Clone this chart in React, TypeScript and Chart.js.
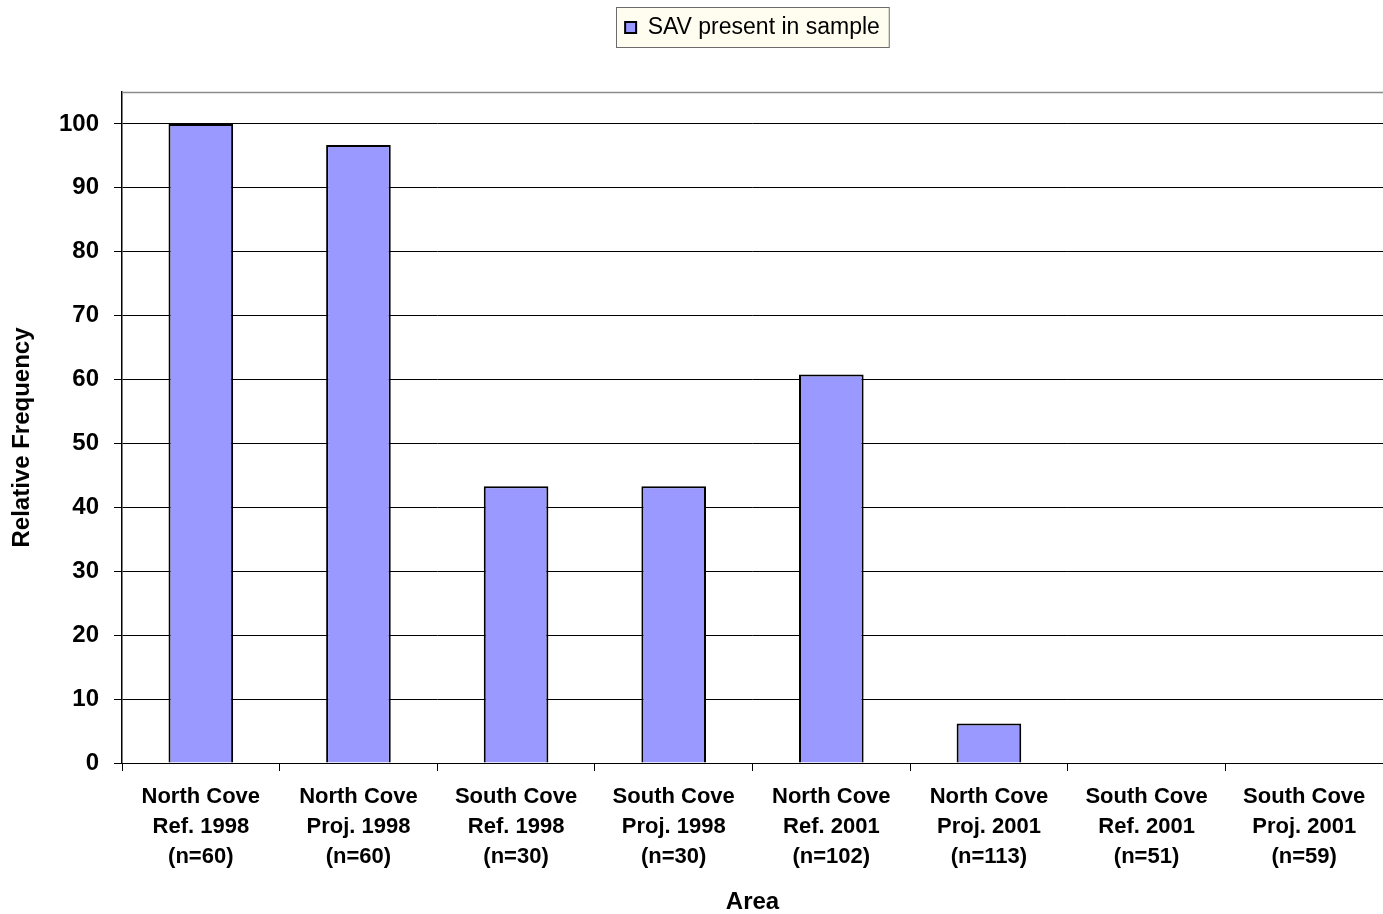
import React, { useEffect, useRef } from "react";
import { Chart, registerables } from "chart.js";

Chart.register(...registerables);

const categories: string[][] = [
  ["North Cove", "Ref. 1998", "(n=60)"],
  ["North Cove", "Proj. 1998", "(n=60)"],
  ["South Cove", "Ref. 1998", "(n=30)"],
  ["South Cove", "Proj. 1998", "(n=30)"],
  ["North Cove", "Ref. 2001", "(n=102)"],
  ["North Cove", "Proj. 2001", "(n=113)"],
  ["South Cove", "Ref. 2001", "(n=51)"],
  ["South Cove", "Proj. 2001", "(n=59)"],
];
const savPresent: number[] = [100, 96.7, 43.3, 43.3, 60.8, 6.2, 0, 0];
const seriesLabel = "SAV present in sample";
const yTicks: number[] = [0, 10, 20, 30, 40, 50, 60, 70, 80, 90, 100];

const FONT = "'Liberation Sans', Arial, sans-serif";
const LEGEND_SIZE = 23;

const framePlugin = {
  id: "frame",
  afterLayout(chart: any) {
    const lg = chart.legend;
    const ca = chart.chartArea;
    if (lg && ca) {
      lg.left = ca.left;
      lg.right = ca.right;
      lg.width = ca.right - ca.left;
    }
  },
  beforeDraw(chart: any) {
    const ctx = chart.ctx;
    const ca = chart.chartArea;
    const lg = chart.legend;
    if (!ca || !lg) return;
    ctx.save();
    ctx.font = `${LEGEND_SIZE}px ${FONT}`;
    const tw = ctx.measureText(seriesLabel).width;
    const itemW = 11 + LEGEND_SIZE / 2 + tw;
    const w = itemW + 18;
    const cx = (ca.left + ca.right) / 2;
    const x = Math.round(cx - w / 2) + 0.5;
    ctx.fillStyle = "#FFFCF0";
    ctx.strokeStyle = "#6b6b6b";
    ctx.lineWidth = 1;
    ctx.fillRect(x, 7.5, w, 40);
    ctx.strokeRect(x, 7.5, w, 40);
    ctx.restore();
  },
  afterDraw(chart: any) {
    const ctx = chart.ctx;
    const ca = chart.chartArea;
    ctx.save();
    ctx.strokeStyle = "#8c8c8c";
    ctx.lineWidth = 1.5;
    ctx.beginPath();
    ctx.moveTo(ca.left, ca.top + 0.5);
    ctx.lineTo(ca.right, ca.top + 0.5);
    ctx.stroke();
    ctx.restore();
  },
};

export default function App() {
  const ref = useRef<HTMLCanvasElement | null>(null);
  useEffect(() => {
    if (!ref.current) return;
    const chart = new Chart(ref.current, {
      type: "bar",
      data: {
        labels: categories,
        datasets: [
          {
            label: seriesLabel,
            data: savPresent,
            backgroundColor: "#9999FF",
            borderColor: "#000000",
            borderWidth: 2,
            barPercentage: 1,
            categoryPercentage: 0.41,
          },
        ],
      },
      options: {
        animation: false,
        responsive: false,
        maintainAspectRatio: false,
        layout: { padding: { left: 0, right: 0, top: 0, bottom: 0 } },
        plugins: {
          tooltip: { enabled: false },
          legend: {
            position: "top",
            weight: 3000,
            labels: {
              boxWidth: 11,
              boxHeight: 11,
              padding: 16,
              color: "#000",
              font: { family: FONT, size: LEGEND_SIZE },
            },
          },
          title: {
            display: true,
            text: "",
            weight: 2000,
            font: { size: 10, lineHeight: 1 },
            padding: { top: 0, bottom: 33 },
          },
        },
        scales: {
          x: {
            grid: {
              offset: true,
              drawOnChartArea: false,
              drawTicks: true,
              tickLength: 8,
              color: "#000",
            },
            border: { color: "#000", width: 1 },
            ticks: {
              autoSkip: false,
              maxRotation: 0,
              minRotation: 0,
              padding: 11,
              color: "#000",
              font: { family: FONT, size: 22, weight: "bold", lineHeight: 1.36 },
            },
            title: {
              display: true,
              text: "Area",
              color: "#000",
              font: { family: FONT, size: 24, weight: "bold", lineHeight: 1 },
              padding: { top: 0, bottom: 0 },
            },
            afterFit(scale: any) {
              scale.height = 151;
            },
          },
          y: {
            min: 0,
            max: 105,
            afterBuildTicks(scale: any) {
              scale.ticks = yTicks.map((v) => ({ value: v }));
            },
            grid: {
              color: "#000",
              lineWidth: 1,
              drawTicks: true,
              tickLength: 8,
            },
            border: { color: "#000", width: 1.5 },
            ticks: {
              padding: 15,
              color: "#000",
              font: { family: FONT, size: 24, weight: "bold" },
            },
            title: {
              display: true,
              text: "Relative Frequency   ",
              color: "#000",
              font: { family: FONT, size: 24, weight: "bold" },
              padding: { top: 8, bottom: 0 },
            },
            afterFit(scale: any) {
              scale.width = 122;
            },
          },
        },
      },
      plugins: [framePlugin],
    } as any);
    return () => chart.destroy();
  }, []);
  return (
    <div style={{ position: "fixed", left: 0, top: 0, width: 1383, height: 914, background: "#fff" }}>
      <canvas ref={ref} width={1383} height={914} style={{ width: 1383, height: 914, display: "block" }} />
    </div>
  );
}
